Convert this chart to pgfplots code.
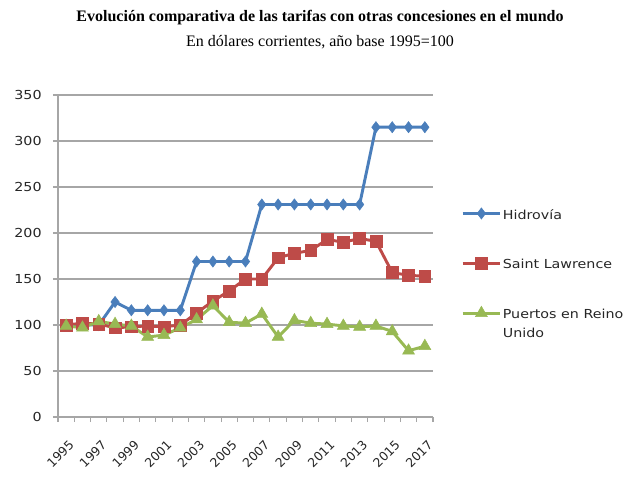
\documentclass[border=0pt]{standalone}
\usepackage{fontspec}
\setmainfont{Liberation Serif}
\newfontfamily\chartfont[FakeStretch=1.15]{DejaVu Sans}
\newfontfamily\xfont{DejaVu Sans}
\usepackage{pgfplots}
\usepackage{pgfplotstable}
\pgfplotsset{compat=1.18}
\definecolor{cblue}{HTML}{4A7EBB}
\definecolor{cred}{HTML}{BE4B48}
\definecolor{cgreen}{HTML}{98B954}
\definecolor{gridgray}{HTML}{A6A6A6}
\newcommand{\legtext}[1]{\raisebox{0pt}[\height][0pt]{\begin{tabular}[t]{@{}l@{}}#1\end{tabular}}}
\pgfplotstableread{
x year hid stl pru
0 1995 100 100 99
1 1996 100 102 97
2 1997 100 101 104
3 1998 125 97 101
4 1999 116 98 99
5 2000 116 99 87
6 2001 116 98 89
7 2002 116 100 97
8 2003 169 113 106
9 2004 169 126 121
10 2005 169 137 103
11 2006 169 150 102
12 2007 231 150 112
13 2008 231 173 87
14 2009 231 178 105
15 2010 231 181 102
16 2011 231 193 101
17 2012 231 190 99
18 2013 231 194 98
19 2014 315 191 99
20 2015 315 157 93
21 2016 315 154 72
22 2017 315 153 77
}\data
\begin{document}
\begin{tikzpicture}
\path[use as bounding box] (0,0) rectangle (479.25pt,359.25pt);
\node[font=\bfseries\fontsize{12}{14}\selectfont] at (240pt,345.75pt) {Evolución comparativa de las tarifas con otras concesiones en el mundo};
\node[font=\fontsize{12}{14}\selectfont] at (240pt,327.75pt) {En dólares corrientes, año base 1995=100};
\begin{axis}[
  at={(43.5pt,46.5pt)}, anchor=south west,
  scale only axis, width=281.25pt, height=241.5pt,
  xmin=-0.5, xmax=22.5, ymin=0, ymax=350,
  axis lines=left,
  axis line style={-, draw=gridgray, line width=0.8pt},
  xtick={0,2,...,22},
  xticklabels={1995,1997,1999,2001,2003,2005,2007,2009,2011,2013,2015,2017},
  minor xtick={-0.5,0.5,...,22.5},
  ytick={0,50,...,350},
  tick align=outside,
  major tick length=3.75pt,
  minor tick length=3.75pt,
  xtick style={draw=none},
  minor x tick style={draw=gridgray, line width=0.8pt},
  ytick style={draw=gridgray, line width=0.8pt},
  ymajorgrids,
  major grid style={draw=gridgray, line width=0.8pt},
  /pgf/number format/assume math mode=true,
  ticklabel style={font=\chartfont\fontsize{9.3}{11}\selectfont, text=black!85},
  yticklabel style={xshift=-5pt},
  xticklabel style={font=\xfont\fontsize{9.3}{11}\selectfont, xshift=1.5pt, yshift=-8pt, rotate=45, anchor=north east},
  legend style={draw=none, fill=none, at={(1,1)}, anchor=north west, xshift=21pt, yshift=-82pt,
    inner sep=0pt, row sep=24.1pt, nodes={inner sep=1pt},
    font=\chartfont\fontsize{9.3}{14}\selectfont, text=black!85,
    cells={anchor=west}},
  legend image code/.code={\draw[mark repeat=2, mark phase=2, #1] plot coordinates {(0pt,0pt) (14pt,0pt) (28pt,0pt)};},
  clip=false,
]
\addplot[cblue, line width=2.2pt, mark=diamond*, mark size=4.2pt, mark options={line width=0.4pt, fill=cblue}] table[x=x,y=hid]{\data};
\addlegendentry{\legtext{Hidrovía}}
\addplot[cred, line width=2.2pt, mark=square*, mark size=4.4pt, mark options={line width=0.4pt, fill=cred}] table[x=x,y=stl]{\data};
\addlegendentry{\legtext{Saint Lawrence}}
\addplot[cgreen, line width=2.2pt, mark=triangle*, mark size=5.2pt, mark options={line width=0.4pt, fill=cgreen}] table[x=x,y=pru]{\data};
\addlegendentry{\legtext{Puertos en Reino\\Unido}}
\end{axis}
\end{tikzpicture}
\end{document}
